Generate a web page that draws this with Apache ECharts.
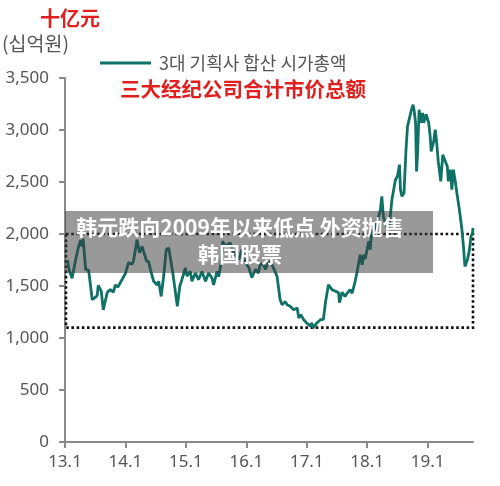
<!DOCTYPE html>
<html>
<head>
<meta charset="utf-8">
<script src="https://cdn.jsdelivr.net/npm/echarts@6/dist/echarts.min.js"></script>
<style>
  html, body { margin: 0; padding: 0; background: #fff; }
  #main { width: 500px; height: 486px; }
</style>
</head>
<body>
<div id="main"></div>
<script>
// 月份（从13.1起算）与市值（十亿韩元）
var months = [0.5, 0.8, 1.4, 1.7, 2.1, 2.7, 3.1, 3.4, 3.6, 4.1, 4.7, 5.4, 6.0, 6.4, 6.6, 7.2, 7.6, 8.4, 9.0, 9.6,
  10.0, 10.5, 11.3, 12.0, 12.6, 13.3, 13.6, 14.3, 14.8, 15.3, 16.2, 16.6, 17.0, 17.6, 18.3, 18.6, 19.1, 19.6, 20.1, 20.6,
  21.3, 21.9, 22.3, 22.8, 23.2, 23.9, 24.2, 24.9, 25.2, 25.9, 26.5, 27.2, 27.9, 28.5, 29.2, 29.5, 30.2, 30.5, 31.0, 31.3,
  31.8, 32.8, 33.5, 34.5, 35.1, 35.8, 36.5, 37.1, 37.8, 38.4, 38.8, 39.4, 39.8, 40.4, 41.1, 41.4, 42.1, 42.7, 43.1, 43.7,
  44.1, 44.7, 45.4, 46.1, 46.4, 46.8, 47.4, 48.0, 48.7, 49.0, 49.3, 50.0, 50.3, 50.7, 51.3, 51.7, 52.3, 53.0, 53.7, 54.3,
  54.5, 55.0, 55.6, 56.0, 56.6, 57.0, 57.6, 58.0, 58.3, 58.6, 59.0, 59.3, 59.6, 60.3, 60.6, 60.9, 61.3, 61.9, 62.6, 62.9,
  63.2, 63.8, 64.4, 64.9, 65.2, 65.6, 66.0, 66.4, 66.6, 66.9, 67.3, 67.7, 68.0, 68.4, 68.7, 69.1, 69.3, 69.6, 69.8, 70.0,
  70.3, 70.7, 71.0, 71.2, 71.7, 72.2, 72.5, 72.7, 73.2, 73.5, 73.8, 74.1, 74.6, 75.0, 75.5, 75.9, 76.1, 76.5, 76.8, 77.1,
  77.5, 77.8, 78.3, 78.8, 79.1, 79.4, 79.9, 80.3, 80.6, 80.9, 81.0];
var values = [1750, 1656, 1575, 1590, 1750, 1880, 1940, 1880, 1955, 1660, 1650, 1370, 1390, 1410, 1505, 1450, 1270, 1440, 1465, 1440,
  1510, 1490, 1560, 1620, 1725, 1710, 1740, 1945, 1820, 1880, 1740, 1735, 1650, 1545, 1510, 1545, 1400, 1600, 1850, 1865,
  1660, 1450, 1305, 1500, 1560, 1675, 1595, 1640, 1545, 1625, 1560, 1640, 1545, 1625, 1575, 1510, 1640, 1590, 1720, 1930,
  1885, 1915, 1820, 1755, 1850, 1725, 1675, 1580, 1660, 1625, 1720, 1705, 1660, 1737, 1705, 1720, 1593, 1370, 1320, 1350,
  1320, 1305, 1272, 1288, 1192, 1225, 1175, 1144, 1112, 1145, 1096, 1145, 1160, 1176, 1180, 1338, 1512, 1465, 1450, 1435,
  1340, 1440, 1400, 1430, 1465, 1430, 1545, 1640, 1720, 1800, 1705, 1800, 1760, 1930, 1850, 2040, 1990, 2105, 2230, 2362,
  2170, 2074, 2080, 2330, 2330, 2522, 2555, 2667, 2426, 2362, 2395, 2810, 3035, 3116, 3180, 3243, 3195, 3067, 2602, 2780,
  3195, 3070, 3164, 3070, 3149, 3070, 2939, 2794, 2890, 3003, 2875, 2698, 2506, 2762, 2700, 2650, 2506, 2618, 2426, 2618,
  2500, 2394, 2234, 2041, 1881, 1688, 1753, 1850, 1977, 2009, 2060];
var xTicks = [0, 12, 24, 36, 48, 60, 72];
var xTickLabels = ['13.1', '14.1', '15.1', '16.1', '17.1', '18.1', '19.1'];
var boxRange = [[0.2, 2000], [81, 1100]];

var seriesName = '3대 기획사 합산 시가총액';
var seriesData = [];
for (var i = 0; i < months.length; i++) {
    seriesData.push([months[i], values[i]]);
}

var myChart = echarts.init(document.getElementById('main'));

var option = {
    animation: false,
    grid: { left: 65, right: 27, top: 78, bottom: 44 },
    legend: {
        data: [seriesName],
        icon: 'rect',
        left: 95,
        top: 49,
        itemWidth: 51,
        itemHeight: 3,
        itemGap: 8,
        textStyle: { fontFamily: 'Noto Sans CJK KR', fontSize: 18, color: '#555', padding: [0, 0, 0, 3] }
    },
    xAxis: {
        type: 'value',
        min: 0,
        max: 81,
        interval: 12,
        axisLine: { lineStyle: { color: '#8a8a8a', width: 2 } },
        axisTick: { customValues: xTicks, length: 6, lineStyle: { color: '#8a8a8a', width: 2 } },
        axisLabel: {
            customValues: xTicks,
            margin: 12,
            fontFamily: 'Noto Sans',
            fontSize: 17,
            color: '#555',
            formatter: function (v) {
                var k = xTicks.indexOf(v);
                return k >= 0 ? xTickLabels[k] : '';
            }
        },
        splitLine: { show: false }
    },
    yAxis: {
        type: 'value',
        min: 0,
        max: 3500,
        interval: 500,
        axisLine: { show: true, lineStyle: { color: '#8a8a8a', width: 2 } },
        axisTick: { show: true, length: 6, lineStyle: { color: '#8a8a8a', width: 2 } },
        axisLabel: {
            margin: 16,
            fontFamily: 'Noto Sans',
            fontSize: 17,
            color: '#555',
            formatter: function (v) {
                return String(v).replace(/\B(?=(\d{3})+(?!\d))/g, ',');
            }
        },
        splitLine: { show: false }
    },
    series: [{
        name: seriesName,
        type: 'line',
        symbol: 'none',
        data: seriesData,
        lineStyle: { color: '#0e7266', width: 2.8 },
        itemStyle: { color: '#0e7266' },
        z: 3,
        markArea: {
            silent: true,
            itemStyle: {
                color: 'rgba(0,0,0,0)',
                borderColor: '#111',
                borderWidth: 2.6,
                borderType: [2.6, 2.6]
            },
            data: [[{ coord: boxRange[0] }, { coord: boxRange[1] }]]
        }
    }],
    graphic: [
        {
            type: 'text', left: 40, top: 8,
            style: { text: '十亿元', fontFamily: 'Noto Sans CJK SC', fontWeight: 'bold', fontSize: 20, fill: '#e0201f' }
        },
        {
            type: 'text', left: 2, top: 34,
            style: { text: '(십억원)', fontFamily: 'Noto Sans CJK KR', fontSize: 19.5, fill: '#555' }
        },
        {
            type: 'text', left: 120, top: 79,
            style: { text: '三大经纪公司合计市价总额', fontFamily: 'Noto Sans CJK SC', fontWeight: 'bold', fontSize: 20.5, fill: '#e0201f' }
        },
        {
            type: 'rect', left: 65, top: 211, z: 100,
            shape: { width: 368, height: 62 },
            style: { fill: 'rgba(60,60,60,0.52)' }
        },
        {
            type: 'text', x: 240, y: 214, z: 101,
            style: {
                text: '韩元跌向2009年以来低点 外资抛售\n韩国股票',
                align: 'center',
                verticalAlign: 'top',
                lineHeight: 27,
                fontFamily: 'Noto Sans CJK SC', fontWeight: 'bold', fontSize: 21, fill: '#fff'
            }
        }
    ]
};

myChart.setOption(option);
</script>
</body>
</html>
